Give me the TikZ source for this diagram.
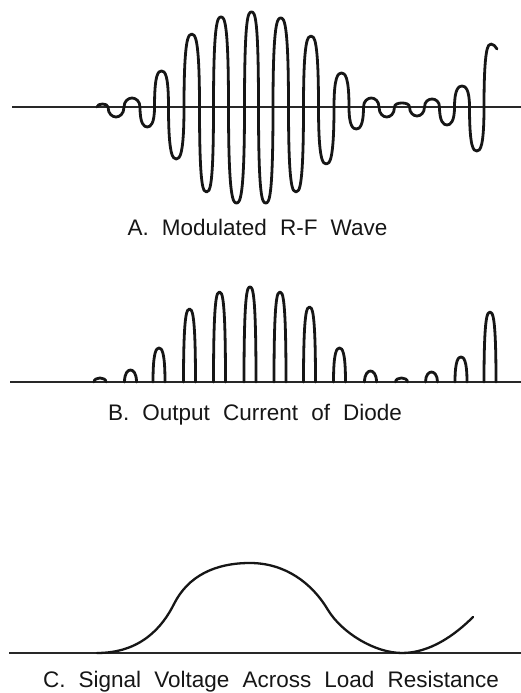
\documentclass[tikz,border=0pt]{standalone}
\usepackage{fontspec}
\setmainfont{Liberation Sans}[WordSpace=2.1]
\definecolor{rfLine}{RGB}{22,22,22}
\definecolor{rfAxis}{RGB}{40,40,40}

\begin{document}
\begin{tikzpicture}[x=1pt, y=1pt,
  axis/.style={line width=1.6pt, draw=rfAxis},
  trace/.style={line width=2.8pt, draw=rfLine, line join=round, line cap=round},
  caption/.style={anchor=base, inner sep=0pt, text=rfLine, font=\fontsize{22.5}{27}\selectfont}]
  \useasboundingbox (0,0) rectangle (521,693);
  \draw[axis] (12,586) -- (521,586);
  \draw[trace] (97,586)
    .. controls +(0,2) and +(-2.5,0) .. ++(5.5,3) .. controls +(2.5,0) and +(0,2) .. ++(5.5,-3)
    .. controls +(0,-7) and +(-3.5,0) .. ++(8,-10) .. controls +(3.5,0) and +(0,-7) .. ++(8,10)
    .. controls +(0,6) and +(-3.5,0) .. ++(8,9) .. controls +(3.5,0) and +(0,6) .. ++(8,-9)
    .. controls +(0,-17) and +(-3.3,0) .. ++(7.25,-20) .. controls +(3.3,0) and +(0,-17) .. ++(7.25,20)
    .. controls +(0,33) and +(-3.3,0) .. ++(7,36) .. controls +(3.3,0) and +(0,33) .. ++(7,-36)
    .. controls +(0,-49) and +(-3.3,0) .. ++(7.75,-52) .. controls +(3.3,0) and +(0,-49) .. ++(7.75,52)
    .. controls +(0,70) and +(-3.3,0) .. ++(7.75,73) .. controls +(3.3,0) and +(0,70) .. ++(7.75,-73)
    .. controls +(0,-82) and +(-3.3,0) .. ++(7,-85) .. controls +(3.3,0) and +(0,-82) .. ++(7,85)
    .. controls +(0,87) and +(-3.3,0) .. ++(7.5,90) .. controls +(3.3,0) and +(0,87) .. ++(7.5,-90)
    .. controls +(0,-93) and +(-3.3,0) .. ++(8,-96) .. controls +(3.3,0) and +(0,-93) .. ++(8,96)
    .. controls +(0,92) and +(-3.3,0) .. ++(7,95) .. controls +(3.3,0) and +(0,92) .. ++(7,-95)
    .. controls +(0,-93) and +(-3.3,0) .. ++(7.25,-96) .. controls +(3.3,0) and +(0,-93) .. ++(7.25,96)
    .. controls +(0,86) and +(-3.3,0) .. ++(7.75,89) .. controls +(3.3,0) and +(0,86) .. ++(7.75,-89)
    .. controls +(0,-82) and +(-3.3,0) .. ++(7.5,-85) .. controls +(3.3,0) and +(0,-82) .. ++(7.5,85)
    .. controls +(0,68) and +(-3.3,0) .. ++(7.5,71) .. controls +(3.3,0) and +(0,68) .. ++(7.5,-71)
    .. controls +(0,-54) and +(-3.3,0) .. ++(7.75,-57) .. controls +(3.3,0) and +(0,-54) .. ++(7.75,57)
    .. controls +(0,31) and +(-3.3,0) .. ++(7.5,34) .. controls +(3.3,0) and +(0,31) .. ++(7.5,-34)
    .. controls +(0,-19) and +(-3.3,0) .. ++(7.25,-22) .. controls +(3.3,0) and +(0,-19) .. ++(7.25,22)
    .. controls +(0,6) and +(-3.5,0) .. ++(7.75,9) .. controls +(3.5,0) and +(0,6) .. ++(7.75,-9)
    .. controls +(0,-7) and +(-3.5,0) .. ++(7.75,-10) .. controls +(3.5,0) and +(0,-7) .. ++(7.75,10)
    .. controls +(0,3) and +(-3.5,0) .. ++(7.5,4) .. controls +(3.5,0) and +(0,3) .. ++(7.5,-4)
    .. controls +(0,-6) and +(-3.5,0) .. ++(7.5,-9) .. controls +(3.5,0) and +(0,-6) .. ++(7.5,9)
    .. controls +(0,5.5) and +(-3.5,0) .. ++(7.5,8) .. controls +(3.5,0) and +(0,5.5) .. ++(7.5,-8)
    .. controls +(0,-15) and +(-3.3,0) .. ++(7.5,-18) .. controls +(3.3,0) and +(0,-15) .. ++(7.5,18)
    .. controls +(0,18) and +(-3.3,0) .. ++(7.5,21) .. controls +(3.3,0) and +(0,18) .. ++(7.5,-21)
    .. controls +(0,-41) and +(-3.3,0) .. ++(7.25,-44) .. controls +(3.3,0) and +(0,-41) .. ++(7.25,44)
    .. controls +(0,60) and +(-3,0) .. ++(7,63) .. controls +(2.5,0) and +(-1.5,2.5) .. ++(6,-5);
  \node[caption] (capA) at (257.5,457) {A. Modulated R-F Wave};
  \draw[axis] (10,311) -- (521,311);
  \draw[trace] (94,311) .. controls +(0,2.8) and +(-2.6,0) .. (100,315) .. controls +(2.6,0) and +(0,2.8) .. (106,311);
  \draw[trace] (124.5,311) .. controls +(0,9) and +(-2.6,0) .. (130.5,323) .. controls +(2.6,0) and +(0,9) .. (136.5,311);
  \draw[trace] (153,311) .. controls +(0,31) and +(-2.6,0) .. (159,345) .. controls +(2.6,0) and +(0,31) .. (165,311);
  \draw[trace] (183.5,311) .. controls +(0,70) and +(-2.6,0) .. (189.5,384) .. controls +(2.6,0) and +(0,70) .. (195.5,311);
  \draw[trace] (213.5,311) .. controls +(0,87) and +(-2.6,0) .. (219.5,401) .. controls +(2.6,0) and +(0,87) .. (225.5,311);
  \draw[trace] (244,311) .. controls +(0,92) and +(-2.6,0) .. (250,406) .. controls +(2.6,0) and +(0,92) .. (256,311);
  \draw[trace] (274,311) .. controls +(0,87) and +(-2.6,0) .. (280,401) .. controls +(2.6,0) and +(0,87) .. (286,311);
  \draw[trace] (303.5,311) .. controls +(0,72) and +(-2.6,0) .. (309.5,386) .. controls +(2.6,0) and +(0,72) .. (315.5,311);
  \draw[trace] (333.5,311) .. controls +(0,31) and +(-2.6,0) .. (339.5,345) .. controls +(2.6,0) and +(0,31) .. (345.5,311);
  \draw[trace] (364.5,311) .. controls +(0,8) and +(-2.6,0) .. (370.5,322) .. controls +(2.6,0) and +(0,8) .. (376.5,311);
  \draw[trace] (395.5,311) .. controls +(0,2.8) and +(-2.6,0) .. (401.5,315) .. controls +(2.6,0) and +(0,2.8) .. (407.5,311);
  \draw[trace] (425.5,311) .. controls +(0,7) and +(-2.6,0) .. (431.5,321) .. controls +(2.6,0) and +(0,7) .. (437.5,311);
  \draw[trace] (455,311) .. controls +(0,22) and +(-2.6,0) .. (461,336) .. controls +(2.6,0) and +(0,22) .. (467,311);
  \draw[trace] (484,311) .. controls +(0,67) and +(-2.6,0) .. (490,381) .. controls +(2.6,0) and +(0,67) .. (496,311);
  \node[caption] (capB) at (255,272) {B. Output Current of Diode};
  \draw[axis] (9,40) -- (521,40);
  \draw[trace, line width=2.3pt] (97,40) .. controls (140,40) and (162,65) .. (174,89)
    .. controls (188,117) and (215,130) .. (250,130) .. controls (285,130) and (312,110) .. (328,83)
    .. controls (342,60) and (375,40) .. (402,40) .. controls (430,40) and (455,58) .. (473,76);
  \node[caption] (capC) at (271,5.5) {C. Signal Voltage Across Load Resistance};
\end{tikzpicture}
\end{document}
